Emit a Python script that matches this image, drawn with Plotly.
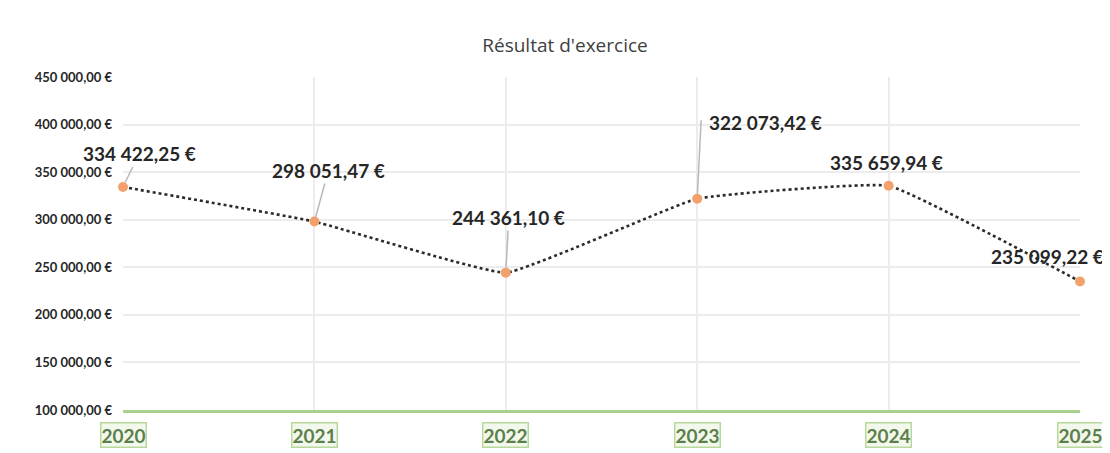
import plotly.graph_objects as go

years = [2020, 2021, 2022, 2023, 2024, 2025]
values = [334422.25, 298051.47, 244361.10, 322073.42, 335659.94, 235099.22]
labels = ["334 422,25 €", "298 051,47 €", "244 361,10 €", "322 073,42 €", "335 659,94 €", "235 099,22 €"]
label_dx = [16, 14, 3, 68, -2, -33]
label_dy = [-33, -51, -55, -76, -23, -25]
label_arrow = [True, True, True, False, False, False]
ytick_vals = [100000, 150000, 200000, 250000, 300000, 350000, 400000, 450000]
ytick_text = ["100 000,00 €", "150 000,00 €", "200 000,00 €", "250 000,00 €",
              "300 000,00 €", "350 000,00 €", "400 000,00 €", "450 000,00 €"]

fig = go.Figure()
fig.add_trace(go.Scatter(
    x=years, y=values, mode="lines+markers",
    line=dict(color="#2b2b2b", width=2.6, dash="dot", shape="spline", smoothing=0.3),
    marker=dict(color="#f2a16c", size=10),
    hoverinfo="skip", showlegend=False, cliponaxis=False,
))

annotations = []
for yr, v, t, dx, dy, arr in zip(years, values, labels, label_dx, label_dy, label_arrow):
    annotations.append(dict(
        x=yr, y=v, xref="x", yref="y", text=t, showarrow=arr,
        ax=dx, ay=dy, arrowhead=0, arrowwidth=1.5, arrowcolor="#b8b8b8",
        standoff=5, startstandoff=0,
        font=dict(family="Lato", size=19, color="#262626", weight="bold"),
        yshift=0 if arr else -dy, xshift=0 if arr else dx,
    ))
# leader line for 2023 (vertical then horizontal)
annotations.append(dict(
    x=years[3], y=values[3], xref="x", yref="y", text="", showarrow=True,
    ax=4, ay=-80, arrowhead=0, arrowwidth=1.5, arrowcolor="#b8b8b8", standoff=5,
))
for yr in years:
    annotations.append(dict(
        x=yr, y=0, xref="x", yref="paper", yanchor="top", yshift=-12,
        text=str(yr), showarrow=False,
        font=dict(family="Lato", size=19, color="#5d7f4c", weight="bold"),
        bordercolor="#b9d99c", borderwidth=1.5, borderpad=0, bgcolor="rgba(235,244,224,0.6)",
    ))

fig.update_layout(
    width=1110, height=453,
    margin=dict(l=115, r=38, t=69, b=51),
    paper_bgcolor="white", plot_bgcolor="white",
    title=dict(text="Résultat d'exercice", xref="container", yref="container",
               x=557 / 1110, y=1 - 37 / 453, xanchor="center", yanchor="middle",
               font=dict(family="Open Sans", size=19, color="#404040")),
    annotations=annotations,
    xaxis=dict(range=[2020, 2025], tickvals=years, showticklabels=False,
               showgrid=True, gridcolor="#ececec", gridwidth=1.5,
               showline=True, linecolor="#a9d18e", linewidth=3, zeroline=False),
    yaxis=dict(range=[100000, 450000], tickvals=ytick_vals, ticktext=ytick_text,
               showgrid=True, gridcolor="#ececec", gridwidth=1.5, zeroline=False,
               ticks="", ticklabelstandoff=10,
               tickfont=dict(family="Lato", size=13, color="#262626", weight="bold")),
)

fig.write_html("out.html")
